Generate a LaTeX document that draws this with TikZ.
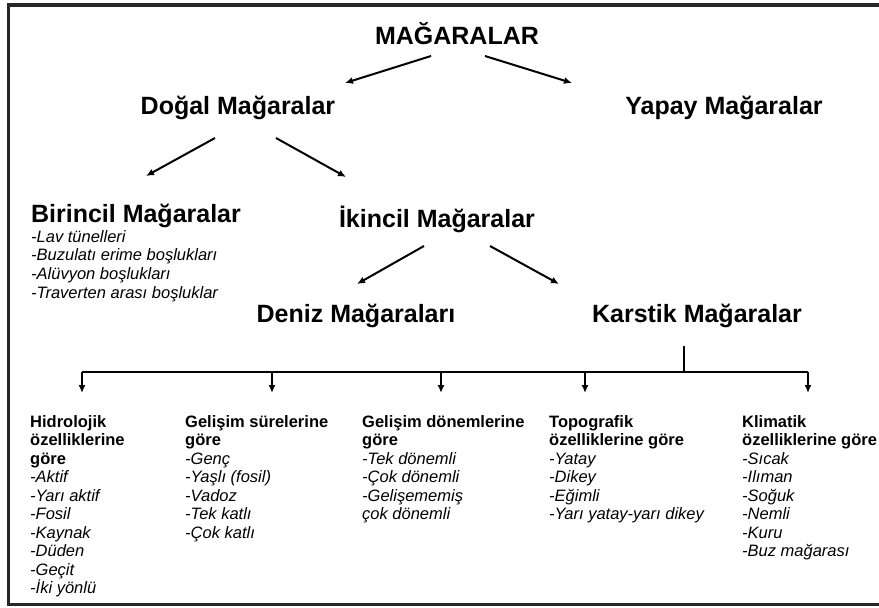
\documentclass[tikz,border=0pt]{standalone}
\usepackage{fontspec}
\setmainfont{Liberation Sans}
\usetikzlibrary{arrows.meta}
\begin{document}
\begin{tikzpicture}[x=1pt,y=-1pt,
  title/.style={font=\fontsize{25}{28}\selectfont\bfseries, inner sep=0pt, anchor=base},
  items/.style={font=\fontsize{16.5}{18.7}\selectfont\itshape, align=left, inner sep=0pt, anchor=north west},
  col/.style={font=\fontsize{16.5}{18.5}\selectfont, align=left, inner sep=0pt, anchor=north west},
  arr/.style={line width=2pt, -{Latex[length=8pt,width=7pt]}},
  bus/.style={line width=2pt},
  frame/.style={line width=3.5pt, draw=black!85}]
\useasboundingbox (0,0) rectangle (879,608);
\draw[frame] (879,5) -- (8.5,5) -- (8.5,604.5) -- (879,604.5);

\node[title] (root) at (457,44) {MAĞARALAR};
\node[title] (dogal) at (238,114) {Doğal Mağaralar};
\node[title] (yapay) at (724,114) {Yapay Mağaralar};
\node[title] (birincil) at (136,222) {Birincil Mağaralar};
\node[title] (ikincil) at (437,227) {İkincil Mağaralar};
\node[title] (deniz) at (356,322) {Deniz Mağaraları};
\node[title] (karstik) at (697,322) {Karstik Mağaralar};

\node[items] (blist) at (31,230) {-Lav tünelleri\\-Buzulatı erime boşlukları\\-Alüvyon boşlukları\\-Traverten arası boşluklar};

\draw[arr] ([shift={(-26,12)}]root.base) -- ([shift={(107,-31)}]dogal.base);
\draw[arr] ([shift={(28,12)}]root.base) -- ([shift={(-152,-31)}]yapay.base);
\draw[arr] ([shift={(-23,24)}]dogal.base) -- ([shift={(10,-46)}]birincil.base);
\draw[arr] ([shift={(38,24)}]dogal.base) -- ([shift={(-91,-50)}]ikincil.base);
\draw[arr] ([shift={(-13,19)}]ikincil.base) -- ([shift={(1,-38)}]deniz.base);
\draw[arr] ([shift={(53,19)}]ikincil.base) -- ([shift={(-138,-38)}]karstik.base);

\node[col] (c1) at (30,415) {\textbf{Hidrolojik}\\\textbf{özelliklerine}\\\textbf{göre}\\\textit{-Aktif}\\\textit{-Yarı aktif}\\\textit{-Fosil}\\\textit{-Kaynak}\\\textit{-Düden}\\\textit{-Geçit}\\\textit{-İki yönlü}};
\node[col] (c2) at (185,415) {\textbf{Gelişim sürelerine}\\\textbf{göre}\\\textit{-Genç}\\\textit{-Yaşlı (fosil)}\\\textit{-Vadoz}\\\textit{-Tek katlı}\\\textit{-Çok katlı}};
\node[col] (c3) at (362,415) {\textbf{Gelişim dönemlerine}\\\textbf{göre}\\\textit{-Tek dönemli}\\\textit{-Çok dönemli}\\\textit{-Gelişememiş}\\\textit{çok dönemli}};
\node[col] (c4) at (549,415) {\textbf{Topografik}\\\textbf{özelliklerine göre}\\\textit{-Yatay}\\\textit{-Dikey}\\\textit{-Eğimli}\\\textit{-Yarı yatay-yarı dikey}};
\node[col] (c5) at (742,415) {\textbf{Klimatik}\\\textbf{özelliklerine göre}\\\textit{-Sıcak}\\\textit{-Ilıman}\\\textit{-Soğuk}\\\textit{-Nemli}\\\textit{-Kuru}\\\textit{-Buz mağarası}};

\coordinate (hub) at (684,372);
\coordinate (b1) at (82,372);
\coordinate (b2) at (272,372);
\coordinate (b3) at (441,372);
\coordinate (b4) at (585,372);
\coordinate (b5) at (808,372);
\draw[bus, shorten <=18pt] (hub |- karstik.south) -- (hub);
\draw[bus] (b1) -- (b5);
\draw[arr, shorten >=22pt] (b1) -- (b1 |- c1.north);
\draw[arr, shorten >=22pt] (b2) -- (b2 |- c2.north);
\draw[arr, shorten >=22pt] (b3) -- (b3 |- c3.north);
\draw[arr, shorten >=22pt] (b4) -- (b4 |- c4.north);
\draw[arr, shorten >=22pt] (b5) -- (b5 |- c5.north);
\end{tikzpicture}
\end{document}
